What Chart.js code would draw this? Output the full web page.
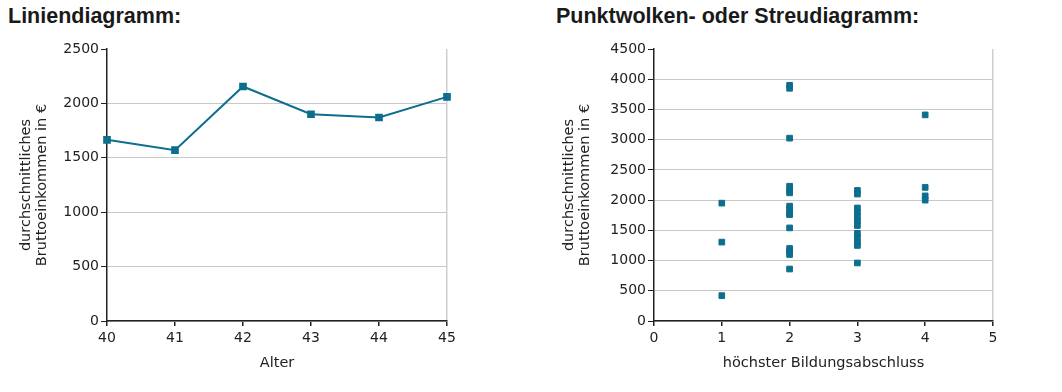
<!DOCTYPE html>
<html>
<head>
<meta charset="utf-8">
<script src="https://cdn.jsdelivr.net/npm/chart.js@4"></script>
<style>
  body { margin: 0; background: #fff; width: 1062px; height: 392px; overflow: hidden; }
  .box { position: absolute; top: 0; width: 531px; height: 392px; }
  .title { position: absolute; top: 4px; font: bold 21.5px "Liberation Sans", Arial, sans-serif; color: #1a1a1a; }
</style>
</head>
<body>
<div class="title" style="left:8px">Liniendiagramm:</div>
<div class="title" style="left:556px">Punktwolken- oder Streudiagramm:</div>
<div class="box" style="left:0"><canvas id="lineChart" width="531" height="392"></canvas></div>
<div class="box" style="left:531px"><canvas id="scatterChart" width="531" height="392"></canvas></div>
<script>
// Liniendiagramm
const ages = [40, 41, 42, 43, 44, 45];
const avgIncome = [1665, 1570, 2155, 1900, 1870, 2060];

// Streudiagramm: höchster Bildungsabschluss vs. Einkommen
const eduLevel = [1, 1, 1,
  2, 2, 2, 2, 2, 2, 2, 2, 2, 2, 2, 2, 2, 2, 2,
  3, 3, 3, 3, 3, 3, 3, 3, 3, 3, 3, 3,
  4, 4, 4, 4];
const eduIncome = [1950, 1305, 420,
  3900, 3850, 3025, 2230, 2160, 2120, 1900, 1850, 1780, 1760, 1540, 1200, 1150, 1100, 860,
  2160, 2100, 1870, 1800, 1720, 1650, 1580, 1450, 1380, 1300, 1250, 960,
  3410, 2210, 2070, 2000];

const yTitle = ['durchschnittliches', 'Bruttoeinkommen in €'];
const blue = '#0d6e8e';
const tickFont = { family: 'DejaVu Sans', size: 14 };
const titleFont = { family: 'DejaVu Sans', size: 14.5, lineHeight: 1.1 };

function axes(xMin, xMax, yMax, yStep, xTitle, yWidth) {
  return {
    x: {
      type: 'linear', min: xMin, max: xMax,
      ticks: { stepSize: 1, color: '#222', font: tickFont, padding: 4, callback: v => v },
      grid: {
        color: c => c.tick && c.tick.value === xMax ? '#cfcfcf' : 'rgba(0,0,0,0)',
        tickColor: '#222', tickLength: 5, lineWidth: 1.5
      },
      border: { color: '#222', width: 1.5 },
      title: { display: true, text: xTitle, color: '#222', font: titleFont, padding: { top: 7 } },
      afterFit: s => { s.height = 54; }
    },
    y: {
      min: 0, max: yMax,
      ticks: { stepSize: yStep, color: '#222', font: tickFont, padding: 2, callback: v => v },
      grid: {
        color: c => c.tick && c.tick.value === yMax ? 'rgba(0,0,0,0)' : '#c8c8c8',
        tickColor: '#222', tickLength: 6
      },
      border: { color: '#222', width: 1.5 },
      title: { display: true, text: yTitle, color: '#222', font: titleFont, padding: { top: 0, bottom: 4 } },
      afterFit: s => { s.width = yWidth; }
    }
  };
}

new Chart(document.getElementById('lineChart'), {
  type: 'scatter',
  data: {
    datasets: [{
      data: ages.map((a, i) => ({ x: a, y: avgIncome[i] })),
      showLine: true,
      borderColor: blue,
      borderWidth: 2,
      backgroundColor: blue,
      pointStyle: 'rect',
      pointRadius: 4,
      clip: false
    }]
  },
  options: {
    responsive: false,
    animation: false,
    layout: { padding: { top: 49, right: 84, left: 18, bottom: 17 } },
    plugins: { legend: { display: false }, tooltip: { enabled: false } },
    scales: axes(40, 45, 2500, 500, 'Alter', 89)
  }
});

new Chart(document.getElementById('scatterChart'), {
  type: 'scatter',
  data: {
    datasets: [{
      data: eduLevel.map((d, i) => ({ x: d, y: eduIncome[i] })),
      backgroundColor: blue,
      borderColor: blue,
      pointStyle: 'rect',
      pointRadius: 4
    }]
  },
  options: {
    responsive: false,
    animation: false,
    layout: { padding: { top: 49, right: 69, left: 30, bottom: 17 } },
    plugins: { legend: { display: false }, tooltip: { enabled: false } },
    scales: axes(0, 5, 4500, 500, 'höchster Bildungsabschluss', 93)
  }
});
</script>
</body>
</html>
